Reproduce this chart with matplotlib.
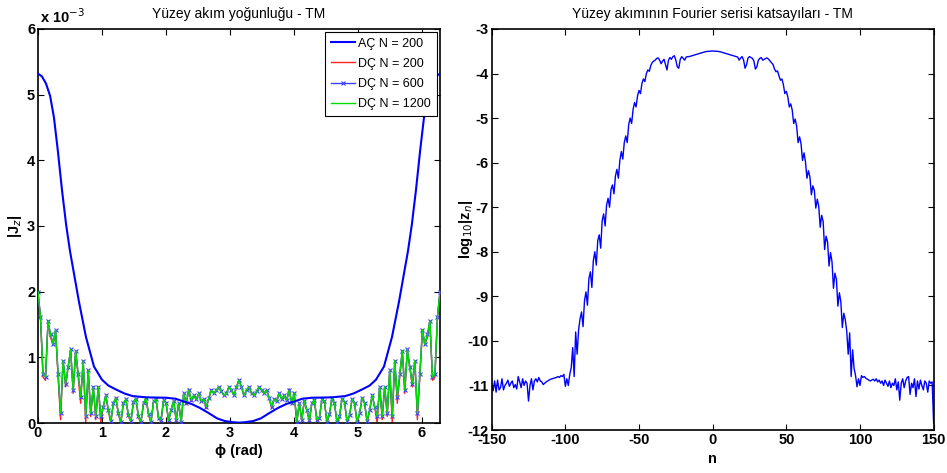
import numpy as np
import matplotlib
matplotlib.use("Agg")
import matplotlib.pyplot as plt

plt.rcParams['font.family'] = ['Liberation Sans', 'DejaVu Sans']
plt.rcParams['axes.unicode_minus'] = False

# ---- left panel data (|Jz|, units of 1e-3) ----
ac_phi = [0, 0.06, 0.125, 0.19, 0.25, 0.31, 0.375, 0.44, 0.5, 0.58, 0.64, 0.75, 0.875, 1.0,
          1.1, 1.22, 1.35, 1.48, 1.7, 2.0, 2.15, 2.27, 2.4, 2.53, 2.67, 2.8, 2.92, 3.05, 3.1416,
          3.2332, 3.3632, 3.4832, 3.6132, 3.7532, 3.8832, 4.0132, 4.1332, 4.2832, 4.5832,
          4.8032, 4.9332, 5.0632, 5.1832, 5.2832, 5.4082, 5.5332, 5.6432, 5.7032, 5.7832,
          5.8432, 5.9082, 5.9732, 6.0332, 6.0932, 6.1582, 6.2232, 6.2832]
ac_200 = [5.32, 5.28, 5.17, 4.98, 4.65, 4.15, 3.55, 3.02, 2.62, 2.18, 1.85, 1.31, 0.86, 0.66,
          0.57, 0.51, 0.45, 0.41, 0.39, 0.385, 0.37, 0.33, 0.29, 0.23, 0.15, 0.07, 0.03, 0.012, 0.005,
          0.012, 0.03, 0.07, 0.15, 0.23, 0.29, 0.33, 0.37, 0.385, 0.39,
          0.41, 0.45, 0.51, 0.57, 0.66, 0.86, 1.31, 1.85, 2.18, 2.62,
          3.02, 3.55, 4.15, 4.65, 4.98, 5.17, 5.28, 5.32]

dc_phi = np.linspace(0, 2 * np.pi, 161)
dc_1200 = [2.0, 1.62, 0.75, 0.7, 1.55, 1.35, 1.2, 1.42, 0.75, 0.15,
           0.95, 0.6, 0.85, 1.12, 0.5, 1.1, 0.75, 0.4, 0.95, 0.1,
           0.8, 0.15, 0.55, 0.1, 0.55, 0.1, 0.25, 0.42, 0.2, 0.03,
           0.3, 0.38, 0.15, 0.02, 0.3, 0.36, 0.12, 0.03, 0.32, 0.37,
           0.1, 0.02, 0.3, 0.38, 0.14, 0.02, 0.33, 0.36, 0.08, 0.05,
           0.35, 0.3, 0.04, 0.2, 0.34, 0.05, 0.3, 0.02, 0.45, 0.3,
           0.5, 0.35, 0.42, 0.36, 0.45, 0.33, 0.36, 0.25, 0.38, 0.5,
           0.45, 0.5, 0.55, 0.48, 0.42, 0.45, 0.55, 0.5, 0.42, 0.55,
           0.65,
           0.55, 0.42, 0.5, 0.55, 0.45, 0.42, 0.48, 0.55, 0.5, 0.45,
           0.5, 0.38, 0.25, 0.36, 0.33, 0.45, 0.36, 0.42, 0.35, 0.5,
           0.3, 0.45, 0.02, 0.3, 0.05, 0.34, 0.2, 0.04, 0.3, 0.35,
           0.05, 0.08, 0.36, 0.33, 0.02, 0.14, 0.38, 0.3, 0.02, 0.1,
           0.37, 0.32, 0.03, 0.12, 0.36, 0.3, 0.02, 0.15, 0.38, 0.3,
           0.03, 0.2, 0.42, 0.25, 0.1, 0.55, 0.1, 0.55, 0.15, 0.8,
           0.1, 0.95, 0.4, 0.75, 1.1, 0.5, 1.12, 0.85, 0.6, 0.95,
           0.15, 0.75, 1.42, 1.2, 1.35, 1.55, 0.7, 0.75, 1.62, 2.0]
dc_600 = dc_1200
dc_200 = [2.0, 1.6, 0.7, 0.65, 1.55, 1.3, 1.2, 1.4, 0.7, 0.05,
          0.95, 0.55, 0.85, 1.1, 0.45, 1.1, 0.7, 0.3, 0.95, 0.0,
          0.8, 0.1, 0.55, 0.05, 0.55, 0.0, 0.25, 0.42, 0.18, 0.0,
          0.3, 0.38, 0.13, 0.0, 0.3, 0.36, 0.1, 0.02, 0.32, 0.37,
          0.08, 0.0, 0.3, 0.38, 0.12, 0.01, 0.33, 0.36, 0.06, 0.03,
          0.35, 0.3, 0.02, 0.2, 0.34, 0.03, 0.3, 0.0, 0.45, 0.28,
          0.52, 0.33, 0.42, 0.36, 0.45, 0.33, 0.36, 0.22, 0.38, 0.5,
          0.45, 0.5, 0.55, 0.48, 0.42, 0.45, 0.55, 0.5, 0.42, 0.55,
          0.65,
          0.55, 0.42, 0.5, 0.55, 0.45, 0.42, 0.48, 0.55, 0.5, 0.45,
          0.5, 0.38, 0.22, 0.36, 0.33, 0.45, 0.36, 0.42, 0.33, 0.52,
          0.28, 0.45, 0.0, 0.3, 0.03, 0.34, 0.2, 0.02, 0.3, 0.35,
          0.03, 0.06, 0.36, 0.33, 0.01, 0.12, 0.38, 0.3, 0.0, 0.08,
          0.37, 0.32, 0.02, 0.1, 0.36, 0.3, 0.0, 0.13, 0.38, 0.3,
          0.0, 0.18, 0.42, 0.25, 0.0, 0.55, 0.05, 0.55, 0.1, 0.8,
          0.0, 0.95, 0.3, 0.7, 1.1, 0.45, 1.1, 0.85, 0.55, 0.95,
          0.05, 0.7, 1.4, 1.2, 1.3, 1.55, 0.65, 0.7, 1.6, 2.0]

# ---- right panel data (log10 |zn|) ----
n_vals = np.arange(-150, 151)
log_zn = [-10.95, -11.12, -10.9, -11.15, -10.88, -11.1, -11.05, -10.85, -11.1, -11.0,
          -10.95, -10.88, -11.02, -10.95, -10.9, -11.05, -10.98, -11.08, -10.8, -10.92,
          -11.05, -10.85, -11.0, -10.9, -10.95, -11.35, -11.0, -10.85, -11.1, -10.9,
          -10.85, -10.92, -10.82, -10.9, -10.92, -10.98, -10.95, -10.92, -10.9, -10.88,
          -10.86, -10.85, -10.84, -10.83, -10.82, -10.8, -10.82, -10.78, -10.8, -10.75,
          -11.02, -10.85, -11.0, -10.75, -10.6, -10.15, -10.8, -9.8, -10.3, -9.75,
          -9.5, -9.35, -9.68, -9.1, -8.9, -9.2, -8.6, -8.45, -8.8, -8.2,
          -8.0, -8.3, -7.75, -7.62, -7.92, -7.3, -7.15, -7.42, -6.95, -6.8,
          -7.0, -6.6, -6.5, -6.7, -6.3, -6.15, -6.35, -5.95, -5.75, -5.92,
          -5.55, -5.4, -5.55, -5.15, -5.0, -5.12, -4.8, -4.65, -4.75, -4.5,
          -4.38, -4.45, -4.22, -4.12, -4.18, -4.0, -3.92, -3.95, -3.82, -3.75,
          -3.72, -3.7, -3.66, -3.65, -3.7, -3.78, -3.72, -3.68, -3.8, -3.92,
          -3.7, -3.64, -3.68, -3.62, -3.6, -3.7, -3.85, -3.88, -3.68, -3.62,
          -3.66, -3.7, -3.63, -3.62, -3.62, -3.61, -3.6, -3.59, -3.58, -3.57,
          -3.56, -3.55, -3.54, -3.53, -3.52, -3.51, -3.505, -3.5, -3.5, -3.495,
          -3.495,
          -3.495, -3.5, -3.5, -3.505, -3.51, -3.52, -3.53, -3.54, -3.55, -3.56,
          -3.57, -3.58, -3.59, -3.6, -3.61, -3.62, -3.63, -3.7, -3.65, -3.62,
          -3.7, -3.88, -3.8, -3.65, -3.62, -3.64, -3.66, -3.72, -3.9, -3.85,
          -3.7, -3.66, -3.64, -3.7, -3.68, -3.66, -3.65, -3.68, -3.72, -3.76,
          -3.8, -3.9, -3.96, -3.94, -4.05, -4.15, -4.12, -4.25, -4.45, -4.4,
          -4.52, -4.75, -4.68, -4.82, -5.12, -5.02, -5.18, -5.55, -5.42, -5.58,
          -5.95, -5.78, -5.98, -6.35, -6.18, -6.32, -6.72, -6.52, -6.62, -7.02,
          -6.82, -6.98, -7.45, -7.18, -7.32, -7.95, -7.65, -7.78, -8.32, -8.02,
          -8.22, -8.82, -8.48, -8.62, -9.22, -8.92, -9.12, -9.7, -9.38, -9.52,
          -9.78, -10.3, -9.82, -10.8, -10.2, -10.62, -10.78, -11.03, -10.85, -11.0,
          -10.78, -10.82, -10.8, -10.84, -10.86, -10.88, -10.9, -10.88, -10.86, -10.9,
          -10.85, -10.92, -10.88, -10.95, -10.9, -11.0, -10.88, -10.95, -11.02, -10.9,
          -11.05, -10.95, -11.0, -10.85, -11.1, -10.92, -11.33, -10.95, -10.85, -11.05,
          -10.9, -10.82, -10.8, -11.2, -10.95, -11.05, -10.85, -11.25, -10.9, -11.08,
          -10.88, -11.0, -11.1, -10.9, -10.95, -11.15, -10.9, -10.95, -10.92, -11.85]

fig = plt.figure(figsize=(9.47, 4.73), dpi=100)
ax1 = fig.add_axes([0.0401, 0.1057, 0.4245, 0.833])
ax2 = fig.add_axes([0.5192, 0.0909, 0.4667, 0.8478])

# left: surface current density
ax1.plot(dc_phi, dc_200, color='#ff2020', linewidth=1.0, label='DÇ N = 200', zorder=2)
ax1.plot(dc_phi, dc_600, color='#4040ff', linewidth=1.0, marker='x', markersize=3,
         markeredgewidth=0.8, label='DÇ N = 600', zorder=3)
ax1.plot(dc_phi, dc_1200, color='#00dd00', linewidth=1.0, label='DÇ N = 1200', zorder=4)
ax1.plot(ac_phi, ac_200, color='#0000ff', linewidth=1.5, label='AÇ N = 200', zorder=5)

h, l = ax1.get_legend_handles_labels()
order = [3, 0, 1, 2]
leg = ax1.legend([h[i] for i in order], [l[i] for i in order], loc='upper right',
                 fontsize=9, fancybox=False, edgecolor='black', framealpha=1,
                 handlelength=1.9, borderaxespad=0.25, labelspacing=0.65,
                 handletextpad=0.3, borderpad=0.45)
leg.get_frame().set_linewidth(0.8)
leg.set_zorder(10)

ax1.set_xlim([0, 2 * np.pi])
ax1.set_ylim([0, 6])
ax1.set_xticks(range(0, 7))
ax1.set_yticks(range(0, 7))
ax1.set_title('Yüzey akım yoğunluğu - TM', fontsize=10, pad=8)
ax1.set_xlabel('ϕ (rad)', fontsize=10.5, fontweight='bold', labelpad=3)
ax1.set_ylabel('|J$_z$|', fontsize=10.5, fontweight='bold')
ax1.yaxis.set_label_coords(-0.035, 0.5)
ax1.text(0.005, 1.008, 'x 10$^{-3}$', transform=ax1.transAxes, fontsize=10.5,
         fontweight='bold', ha='left', va='bottom')

# right: Fourier coefficients
ax2.plot(n_vals, log_zn, color='#0000ff', linewidth=1.0)
ax2.set_xlim([-150, 150])
ax2.set_ylim([-12, -3])
ax2.set_xticks(range(-150, 151, 50))
ax2.set_yticks(range(-12, -2))
ax2.set_title('Yüzey akımının Fourier serisi katsayıları - TM', fontsize=10, pad=8)
ax2.set_xlabel('n', fontsize=10.5, fontweight='bold', labelpad=4)
ax2.set_ylabel('log$_{10}$|z$_n$|', fontsize=10.5, fontweight='bold')
ax2.yaxis.set_label_coords(-0.037, 0.5)

for ax in (ax1, ax2):
    ax.tick_params(direction='in', top=True, right=True, length=4, width=0.8, pad=2)
    for lab in ax.get_xticklabels() + ax.get_yticklabels():
        lab.set_fontsize(10.5)
        lab.set_fontweight('bold')
    for s in ax.spines.values():
        s.set_linewidth(1.2)

fig.savefig('out.png', dpi=100)
